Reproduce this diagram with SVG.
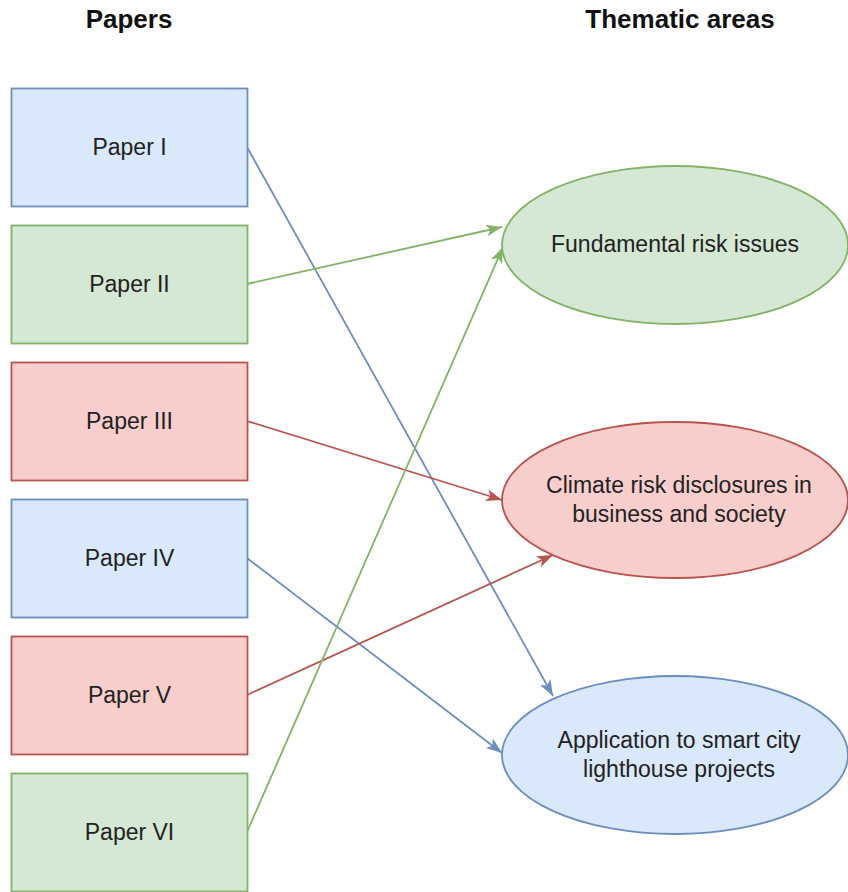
<svg xmlns="http://www.w3.org/2000/svg" width="848" height="892" viewBox="0 0 848 892">
<style>
.t{font-family:"Liberation Sans",Arial,sans-serif;font-size:23px;fill:#222;text-anchor:middle}
.h{font-family:"Liberation Sans",Arial,sans-serif;font-size:26px;font-weight:bold;fill:#111;text-anchor:middle}
.blue{fill:#dae8fc;stroke:#6c8ebf;stroke-width:1.8}
.green{fill:#d5e8d4;stroke:#82b366;stroke-width:1.8}
.red{fill:#f8cecc;stroke:#b85450;stroke-width:1.8}
.cb{fill:none;stroke:#6c8ebf;stroke-width:1.8}
.cg{fill:none;stroke:#82b366;stroke-width:1.8}
.cr{fill:none;stroke:#b85450;stroke-width:1.8}
</style>
<defs>
<marker id="ab" markerUnits="userSpaceOnUse" markerWidth="18" markerHeight="14" refX="16" refY="6" orient="auto"><path d="M0,0 L16,6 L0,12 L4,6 Z" fill="#6c8ebf"/></marker>
<marker id="ag" markerUnits="userSpaceOnUse" markerWidth="18" markerHeight="14" refX="16" refY="6" orient="auto"><path d="M0,0 L16,6 L0,12 L4,6 Z" fill="#82b366"/></marker>
<marker id="ar" markerUnits="userSpaceOnUse" markerWidth="18" markerHeight="14" refX="16" refY="6" orient="auto"><path d="M0,0 L16,6 L0,12 L4,6 Z" fill="#b85450"/></marker>
</defs>
<rect width="848" height="892" fill="#fff"/>
<g id="titles">
<text class="h" x="129" y="28">Papers</text>
<text class="h" x="680" y="28">Thematic areas</text>
</g>
<g id="connectors">
<path class="cb" d="M247,147 L553,696" marker-end="url(#ab)"/>
<path class="cg" d="M247,284 L502,227" marker-end="url(#ag)"/>
<path class="cr" d="M247,421 L502,500" marker-end="url(#ar)"/>
<path class="cb" d="M247,558 L502,753" marker-end="url(#ab)"/>
<path class="cr" d="M247,695 L553,555" marker-end="url(#ar)"/>
<path class="cg" d="M247,832 L503,247" marker-end="url(#ag)"/>
</g>
<g id="paper1"><rect class="blue" x="11.5" y="88.5" width="236" height="118"/><text class="t" x="129.5" y="155">Paper I</text></g>
<g id="paper2"><rect class="green" x="11.5" y="225.5" width="236" height="118"/><text class="t" x="129.5" y="292">Paper II</text></g>
<g id="paper3"><rect class="red" x="11.5" y="362.5" width="236" height="118"/><text class="t" x="129.5" y="429">Paper III</text></g>
<g id="paper4"><rect class="blue" x="11.5" y="499.5" width="236" height="118"/><text class="t" x="129.5" y="566">Paper IV</text></g>
<g id="paper5"><rect class="red" x="11.5" y="636.5" width="236" height="118"/><text class="t" x="129.5" y="703">Paper V</text></g>
<g id="paper6"><rect class="green" x="11.5" y="773.5" width="236" height="118"/><text class="t" x="129.5" y="840">Paper VI</text></g>
<g id="area1"><ellipse class="green" cx="675" cy="245" rx="173" ry="79"/><text class="t" x="675" y="252">Fundamental risk issues</text></g>
<g id="area2"><ellipse class="red" cx="675" cy="500" rx="173" ry="78"/><text class="t" x="679" y="493">Climate risk disclosures in</text><text class="t" x="679" y="522">business and society</text></g>
<g id="area3"><ellipse class="blue" cx="675" cy="755" rx="173" ry="79"/><text class="t" x="679" y="748">Application to smart city</text><text class="t" x="679" y="777">lighthouse projects</text></g>
</svg>
